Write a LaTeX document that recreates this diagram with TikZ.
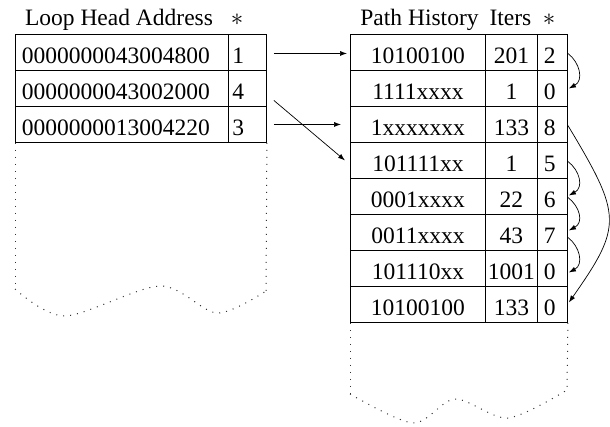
\documentclass[tikz,border=0pt]{standalone}
\usepackage{fontspec}
\setmainfont{Liberation Serif}
\usetikzlibrary{arrows.meta,calc}
\begin{document}
\begin{tikzpicture}[x=1pt,y=-1pt,
  txt/.style={font=\fontsize{23.5}{28}\selectfont, inner sep=0pt},
  cell/.style={txt, draw, line width=0.9pt, rectangle, minimum height=36pt,
    inner ysep=0pt, text height=22pt, text depth=0pt, anchor=north west},
  lwide/.style={cell, minimum width=213pt, text width=200pt, align=left, inner xsep=6.5pt},
  lnarrow/.style={cell, minimum width=38pt, text width=30pt, align=left, inner xsep=4pt},
  rpath/.style={cell, minimum width=135pt, text width=135pt, align=center, inner xsep=0pt},
  riter/.style={cell, minimum width=52pt, text width=52pt, align=center, inner xsep=0pt},
  rstar/.style={cell, minimum width=30pt, text width=17pt, align=left, inner xsep=6.5pt},
  head/.style={txt, anchor=base},
  arr/.style={line width=0.7pt, -{Latex[length=7pt,width=5pt]}},
  dots/.style={line width=1pt, dash pattern=on 1pt off 6pt, black!80}]
\useasboundingbox (0,0) rectangle (610,426);

% headers
\node[head] (hL) at (119,25) {Loop Head Address};
\node[head] (hLs) at (237,25) {$\ast$};
\node[head] (hP) at (419.5,25) {Path History};
\node[head] (hI) at (510.5,25) {Iters};
\node[head] (hRs) at (549,25) {$\ast$};

% left table
\node[lwide]   (L1a) at (15,34)  {0000000043004800};
\node[lnarrow] (L1b) at (228,34) {1};
\node[lwide]   (L2a) at (15,70)  {0000000043002000};
\node[lnarrow] (L2b) at (228,70) {4};
\node[lwide]   (L3a) at (15,106) {0000000013004220};
\node[lnarrow] (L3b) at (228,106) {3};

% right table
\foreach \i/\p/\n/\s in {1/10100100/201/2, 2/1111xxxx/1/0, 3/1xxxxxxx/133/8,
    4/101111xx/1/5, 5/0001xxxx/22/6, 6/0011xxxx/43/7, 7/101110xx/1001/0,
    8/10100100/133/0}{
  \node[rpath] (R\i a) at (350,{34+36*(\i-1)}) {\p};
  \node[riter] (R\i b) at (485,{34+36*(\i-1)}) {\n};
  \node[rstar] (R\i c) at (537,{34+36*(\i-1)}) {\s};
}

% left continuation
\coordinate (lw1) at (15,289);
\coordinate (lw2) at (65,316);
\coordinate (lw3) at (160,286);
\coordinate (lw4) at (217,313);
\coordinate (lw5) at (266,291);
\draw[dots] (L3a.south west) -- (lw1);
\draw[dots] (L3b.south east) -- (lw5);
\draw[dots] plot[smooth] coordinates {(lw1) (lw2) (lw3) (lw4) (lw5)};

% right continuation
\coordinate (rw1) at (350,394);
\coordinate (rw2) at (413,423);
\coordinate (rw3) at (455,399);
\coordinate (rw4) at (508,418);
\coordinate (rw5) at (567,390);
\draw[dots] (R8a.south west) -- (rw1);
\draw[dots] (R8c.south east) -- (rw5);
\draw[dots] plot[smooth] coordinates {(rw1) (rw2) (rw3) (rw4) (rw5)};

% straight connectors
\draw[arr] ($(L1b.east)+(7,1)$) -- ($(R1a.west)+(-3,1)$);
\draw[arr] ($(L2b.east)+(7,12)$) -- ($(R4a.west)+(-5,0)$);
\draw[arr] ($(L3b.east)+(7,0)$) -- ($(R3a.west)+(-9,0)$);

% curved connectors
\draw[arr] ($(R1c.east)+(0,1)$) .. controls +(12,9) and +(15,-8) .. ($(R2c.east)+(1,0)$);
\draw[arr] ($(R4c.east)+(0,1)$) .. controls +(12,9) and +(15,-8) .. ($(R5c.east)+(1,-1)$);
\draw[arr] ($(R5c.east)+(0,1)$) .. controls +(12,9) and +(15,-8) .. ($(R6c.east)+(1,-2)$);
\draw[arr] ($(R6c.east)+(0,5)$) .. controls +(12,9) and +(15,-8) .. ($(R7c.east)+(1,4)$);
\draw[arr] ($(R3c.east)+(0,1)$) .. controls +(54,90) and +(54,-77) .. ($(R8c.east)+(1,-2)$);
\end{tikzpicture}
\end{document}
